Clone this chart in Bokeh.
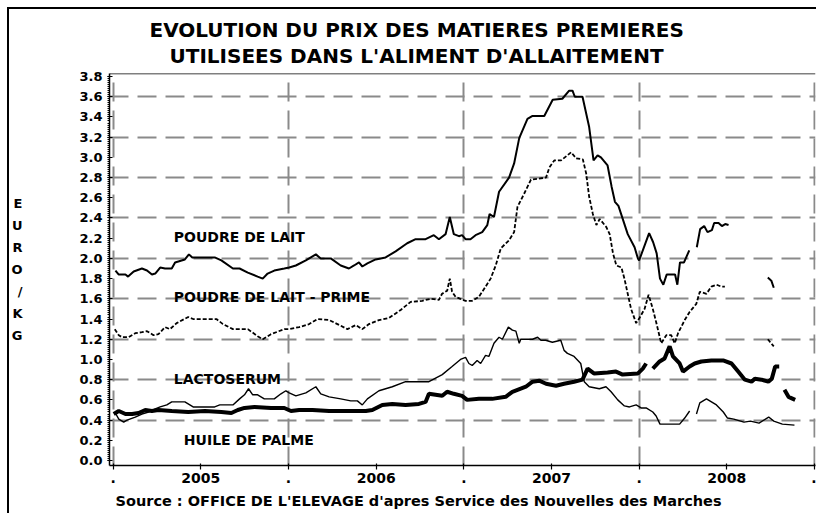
import numpy as np
from bokeh.plotting import figure
from bokeh.models import FixedTicker, Label, Span, Range1d, NumeralTickFormatter, Title
from bokeh.embed import file_html
from bokeh.resources import INLINE

nan = float("nan")

# ---------------- data (decimal years, EURO/KG) ----------------
lait_t = [2005.013, 2005.032, 2005.070, 2005.085, 2005.117, 2005.164, 2005.193, 2005.221, 2005.240,
          2005.268, 2005.296, 2005.334, 2005.353, 2005.409, 2005.432, 2005.451, 2005.579, 2005.617,
          2005.683, 2005.721, 2005.768, 2005.824, 2005.853, 2005.881, 2005.919, 2005.976,
          2006.004, 2006.042, 2006.099, 2006.156, 2006.184, 2006.241, 2006.298, 2006.345, 2006.374,
          2006.402, 2006.421, 2006.450, 2006.497, 2006.554, 2006.611, 2006.677, 2006.725, 2006.782,
          2006.829, 2006.858, 2006.896, 2006.920, 2006.943, 2006.972, 2006.990,
          2007.010, 2007.038, 2007.067, 2007.105, 2007.134, 2007.147, 2007.172, 2007.201, 2007.258,
          2007.287, 2007.316, 2007.363, 2007.392, 2007.459, 2007.507, 2007.562, 2007.601, 2007.620,
          2007.633, 2007.677, 2007.715, 2007.740, 2007.763, 2007.782, 2007.820, 2007.843, 2007.862,
          2007.882, 2007.935, 2007.974, 2007.993,
          2008.000, 2008.057, 2008.080, 2008.100, 2008.119, 2008.138, 2008.157, 2008.205, 2008.218,
          2008.233, 2008.256, 2008.286, nan, 2008.329, 2008.348, 2008.371, 2008.390, 2008.415,
          2008.428, 2008.453, 2008.472, 2008.491, 2008.510, nan, 2008.734, 2008.754, 2008.768]
lait_v = [1.88, 1.84, 1.84, 1.82, 1.87, 1.90, 1.88, 1.84, 1.85,
          1.91, 1.90, 1.90, 1.96, 1.99, 2.04, 2.01, 2.01, 1.98,
          1.90, 1.90, 1.86, 1.82, 1.80, 1.85, 1.88, 1.90,
          1.91, 1.93, 1.98, 2.04, 2.00, 2.00, 1.93, 1.90, 1.93,
          1.96, 1.92, 1.95, 1.99, 2.01, 2.07, 2.15, 2.19, 2.19,
          2.23, 2.19, 2.24, 2.41, 2.24, 2.22, 2.23,
          2.19, 2.19, 2.23, 2.26, 2.33, 2.44, 2.41, 2.66, 2.80,
          2.94, 3.19, 3.38, 3.41, 3.41, 3.57, 3.58, 3.66, 3.66,
          3.60, 3.60, 3.30, 2.97, 3.02, 3.00, 2.92, 2.71, 2.56,
          2.52, 2.24, 2.11, 2.00,
          1.98, 2.25, 2.16, 2.05, 1.80, 1.74, 1.84, 1.84, 1.74,
          1.96, 1.96, 2.08, nan, 2.11, 2.29, 2.32, 2.26, 2.28,
          2.35, 2.35, 2.32, 2.34, 2.33, nan, 1.81, 1.78, 1.71]

prime_t = [2005.009, 2005.032, 2005.051, 2005.088, 2005.126, 2005.164, 2005.193, 2005.230, 2005.258,
           2005.296, 2005.324, 2005.362, 2005.428, 2005.456, 2005.589, 2005.626, 2005.683, 2005.768,
           2005.824, 2005.853, 2005.900, 2005.976,
           2006.004, 2006.061, 2006.118, 2006.165, 2006.232, 2006.279, 2006.336, 2006.384, 2006.421,
           2006.459, 2006.516, 2006.573, 2006.640, 2006.697, 2006.763, 2006.810, 2006.858, 2006.876,
           2006.905, 2006.920, 2006.933, 2006.953, 2006.981,
           2007.010, 2007.048, 2007.086, 2007.124, 2007.153, 2007.182, 2007.211, 2007.258, 2007.287,
           2007.306, 2007.344, 2007.383, 2007.469, 2007.488, 2007.516, 2007.555, 2007.612, 2007.641,
           2007.679, 2007.698, 2007.715, 2007.736, 2007.756, 2007.775, 2007.813, 2007.832, 2007.851,
           2007.870, 2007.899, 2007.916, 2007.935, 2007.954, 2007.983,
           2008.002, 2008.031, 2008.054, 2008.078, 2008.097, 2008.126, 2008.155, 2008.183, 2008.203,
           2008.222, 2008.260, 2008.288, 2008.326, 2008.346, 2008.384, 2008.412, 2008.441, 2008.469,
           2008.489, nan, 2008.734, 2008.748, 2008.768]
prime_v = [1.30, 1.24, 1.22, 1.22, 1.26, 1.27, 1.28, 1.24, 1.25,
           1.32, 1.30, 1.36, 1.42, 1.40, 1.40, 1.35, 1.30, 1.30,
           1.23, 1.20, 1.25, 1.30,
           1.30, 1.32, 1.35, 1.40, 1.39, 1.35, 1.30, 1.34, 1.30,
           1.35, 1.39, 1.41, 1.49, 1.57, 1.58, 1.60, 1.59, 1.65,
           1.68, 1.80, 1.67, 1.62, 1.60,
           1.58, 1.58, 1.62, 1.72, 1.80, 1.93, 2.10, 2.18, 2.26,
           2.51, 2.64, 2.78, 2.80, 2.90, 2.97, 2.97, 3.05, 2.99,
           2.98, 2.84, 2.61, 2.44, 2.33, 2.39, 2.31, 2.24, 2.05,
           1.93, 1.91, 1.80, 1.65, 1.50, 1.36,
           1.41, 1.50, 1.64, 1.50, 1.37, 1.16, 1.24, 1.24, 1.16,
           1.26, 1.39, 1.47, 1.55, 1.67, 1.65, 1.72, 1.74, 1.72,
           1.72, nan, 1.20, 1.17, 1.13]

lacto_t = [2005.009, 2005.032, 2005.060, 2005.079, 2005.126, 2005.164, 2005.202, 2005.240, 2005.268,
           2005.306, 2005.334, 2005.409, 2005.456, 2005.579, 2005.608, 2005.683, 2005.721, 2005.749,
           2005.772, 2005.796, 2005.824, 2005.862, 2005.919, 2005.957, 2005.985,
           2006.004, 2006.042, 2006.099, 2006.156, 2006.184, 2006.232, 2006.298, 2006.355, 2006.393,
           2006.421, 2006.450, 2006.516, 2006.592, 2006.668, 2006.801, 2006.877, 2006.933, 2006.981,
           2007.010, 2007.029, 2007.048, 2007.076, 2007.096, 2007.124, 2007.143, 2007.172, 2007.201,
           2007.220, 2007.254, 2007.277, 2007.297, 2007.316, 2007.325, 2007.392, 2007.421, 2007.440,
           2007.467, 2007.505, 2007.553, 2007.572, 2007.591, 2007.629, 2007.667, 2007.687, 2007.715,
           2007.773, 2007.811, 2007.840, 2007.878, 2007.916, 2007.945, 2007.983,
           2008.011, 2008.040, 2008.078, 2008.097, 2008.119, 2008.231, 2008.260, 2008.288, nan,
           2008.327, 2008.346, 2008.384, 2008.441, 2008.480, 2008.504, 2008.540, 2008.598, 2008.635,
           2008.684, 2008.739, 2008.768, 2008.817, 2008.886]
lacto_v = [0.48, 0.41, 0.38, 0.40, 0.43, 0.46, 0.48, 0.51, 0.53,
           0.55, 0.58, 0.58, 0.53, 0.53, 0.55, 0.55, 0.61, 0.65,
           0.71, 0.65, 0.65, 0.61, 0.61, 0.66, 0.69,
           0.67, 0.64, 0.67, 0.73, 0.66, 0.63, 0.61, 0.59, 0.59,
           0.55, 0.61, 0.69, 0.73, 0.78, 0.78, 0.85, 0.93, 1.00,
           1.02, 0.96, 0.94, 0.99, 0.96, 1.04, 1.03, 1.16, 1.22,
           1.20, 1.32, 1.29, 1.28, 1.16, 1.20, 1.20, 1.22, 1.19,
           1.19, 1.17, 1.19, 1.09, 1.06, 1.03, 0.96, 0.78, 0.73,
           0.71, 0.73, 0.68, 0.60, 0.54, 0.53, 0.55,
           0.52, 0.52, 0.48, 0.44, 0.36, 0.36, 0.42, 0.49, nan,
           0.46, 0.57, 0.61, 0.55, 0.48, 0.42, 0.41, 0.38, 0.39,
           0.37, 0.43, 0.39, 0.36, 0.35]

huile_t = [2005.003, 2005.032, 2005.070, 2005.108, 2005.145, 2005.183, 2005.221, 2005.258, 2005.334,
           2005.428, 2005.523, 2005.617, 2005.674, 2005.711, 2005.749, 2005.806, 2005.900, 2005.976,
           2006.014, 2006.061, 2006.137, 2006.232, 2006.327, 2006.441, 2006.478, 2006.535, 2006.592,
           2006.668, 2006.744, 2006.782, 2006.801, 2006.877, 2006.905, 2006.943, 2006.990,
           2007.019, 2007.086, 2007.162, 2007.239, 2007.277, 2007.354, 2007.392, 2007.430, 2007.469,
           2007.526, 2007.572, 2007.629, 2007.677, 2007.706, 2007.744, 2007.820, 2007.868, 2007.906,
           2007.992,
           2008.021, 2008.040, nan, 2008.078, 2008.117, 2008.145, 2008.174, 2008.193, 2008.231,
           2008.250, 2008.288, 2008.317, 2008.355, 2008.412, 2008.479, 2008.527, 2008.565, 2008.603,
           2008.641, 2008.660, 2008.698, 2008.737, 2008.757, 2008.776, 2008.799, nan, 2008.829,
           2008.852, 2008.890]
huile_v = [0.46, 0.49, 0.46, 0.46, 0.47, 0.50, 0.49, 0.50, 0.49,
           0.48, 0.49, 0.48, 0.47, 0.50, 0.52, 0.53, 0.52, 0.52,
           0.49, 0.50, 0.50, 0.49, 0.49, 0.49, 0.50, 0.55, 0.56,
           0.55, 0.56, 0.58, 0.66, 0.64, 0.68, 0.66, 0.64,
           0.60, 0.61, 0.61, 0.63, 0.68, 0.73, 0.78, 0.79, 0.76,
           0.74, 0.76, 0.78, 0.80, 0.91, 0.86, 0.87, 0.88, 0.85,
           0.86,
           0.91, 0.96, nan, 0.91, 0.98, 1.01, 1.13, 1.03, 0.96,
           0.88, 0.93, 0.96, 0.98, 0.99, 0.99, 0.96, 0.88, 0.80,
           0.78, 0.81, 0.80, 0.78, 0.81, 0.93, 0.93, nan, 0.70,
           0.63, 0.60]

x_ticks = [2005, 2005.5, 2006, 2006.5, 2007, 2007.5, 2008, 2008.5, 2009]
x_tick_labels = [".", "2005", ".", "2006", ".", "2007", ".", "2008", "."]
year_bounds = [2005, 2006, 2007, 2008, 2009]
y_ticks = [round(0.2 * i, 1) for i in range(20)]
y_minor = [round(0.02 * i, 2) for i in range(191)]
y_grid = [round(0.4 * i, 1) for i in range(1, 10)]

FONT = "DejaVu Sans"

p = figure(width=816, height=513,
           x_range=Range1d(2004.979, 2009.006), y_range=Range1d(-0.0495, 3.83),
           output_backend="svg", toolbar_location=None,
           min_border_left=109, min_border_right=1, min_border_top=73, min_border_bottom=48)
p.outline_line_color = None
p.background_fill_color = "white"
p.border_fill_color = None
# outer page frame (left and top black rules)
p.styles = {"box-shadow": "inset 7px 7px 0 0 white, inset 9px 9px 0 0 black",
            "background-color": "white"}

# grid
p.xgrid.ticker = FixedTicker(ticks=year_bounds)
p.ygrid.ticker = FixedTicker(ticks=y_grid)
for g in (p.xgrid, p.ygrid):
    g.grid_line_color = "#8a8a8a"
    g.grid_line_width = 2
    g.grid_line_dash = "19 9"

# axes
p.xaxis.ticker = FixedTicker(ticks=x_ticks)
p.xaxis.major_label_overrides = {t: l for t, l in zip(x_ticks, x_tick_labels)}
p.yaxis.ticker = FixedTicker(ticks=y_ticks, minor_ticks=y_minor)
p.yaxis.formatter = NumeralTickFormatter(format="0.0")
for ax in (p.xaxis, p.yaxis):
    ax.axis_line_color = "black"
    ax.axis_line_width = 1.5
    ax.major_tick_line_color = "black"
    ax.major_tick_line_width = 1.2
    ax.major_label_text_font = FONT
    ax.major_label_text_font_style = "bold"
    ax.major_label_text_color = "black"
p.xaxis.major_tick_out = 4
p.xaxis.major_tick_in = 2
p.xaxis.minor_tick_line_color = None
p.xaxis.major_label_text_font_size = "14px"
p.xaxis.major_label_standoff = 3
p.yaxis.major_tick_out = 2
p.yaxis.major_tick_in = 3
p.yaxis.minor_tick_out = 2
p.yaxis.minor_tick_in = 0
p.yaxis.minor_tick_line_color = "black"
p.yaxis.minor_tick_line_width = 1
p.yaxis.major_label_text_font_size = "13px"
p.yaxis.major_label_standoff = 5

# stacked vertical axis title
p.yaxis.axis_label = "E\nU\nR\nO\n/\nK\nG"
p.yaxis.axis_label_orientation = "horizontal"
p.yaxis.axis_label_text_font = FONT
p.yaxis.axis_label_text_font_style = "bold"
p.yaxis.axis_label_text_font_size = "13px"
p.yaxis.axis_label_text_line_height = 1.46
p.yaxis.axis_label_text_color = "black"
p.yaxis.axis_label_standoff = 54

# top edge of the plot area
p.add_layout(Span(location=3.83, dimension="width", line_color="black", line_width=1.5))

# series
p.line(np.array(lait_t), np.array(lait_v), line_color="black", line_width=2)
p.line(np.array(prime_t), np.array(prime_v), line_color="black", line_width=1.8, line_dash="4 2")
p.line(np.array(lacto_t), np.array(lacto_v), line_color="black", line_width=1.4)
p.line(np.array(huile_t), np.array(huile_v), line_color="black", line_width=4)

# in-plot labels
for txt, x, y in [("POUDRE DE LAIT", 2005.346, 2.21),
                  ("POUDRE DE LAIT - PRIME", 2005.346, 1.615),
                  ("LACTOSERUM", 2005.346, 0.81),
                  ("HUILE DE PALME", 2005.403, 0.205)]:
    p.add_layout(Label(x=x, y=y, text=txt, text_font=FONT, text_font_style="bold",
                       text_font_size="14px", text_align="left", text_baseline="alphabetic",
                       text_color="black"))

# two title lines (first added sits closest to the plot)
p.add_layout(Title(text="UTILISEES DANS L'ALIMENT D'ALLAITEMENT", align="left", offset=60,
                   standoff=12, vertical_align="bottom", text_font=FONT, text_font_style="bold",
                   text_font_size="20px", text_color="black"), "above")
p.add_layout(Title(text="EVOLUTION DU PRIX DES MATIERES PREMIERES", align="left", offset=40,
                   standoff=-12, vertical_align="bottom", text_font=FONT, text_font_style="bold",
                   text_font_size="20px", text_color="black"), "above")

# source line under the axis
p.add_layout(Title(text="Source : OFFICE DE L'ELEVAGE d'apres Service des Nouvelles des Marches",
                   align="left", offset=6, standoff=10, vertical_align="bottom",
                   text_font=FONT, text_font_style="bold", text_font_size="14.5px",
                   text_color="black"), "below")

open("out.html", "w").write(file_html(p, INLINE))
